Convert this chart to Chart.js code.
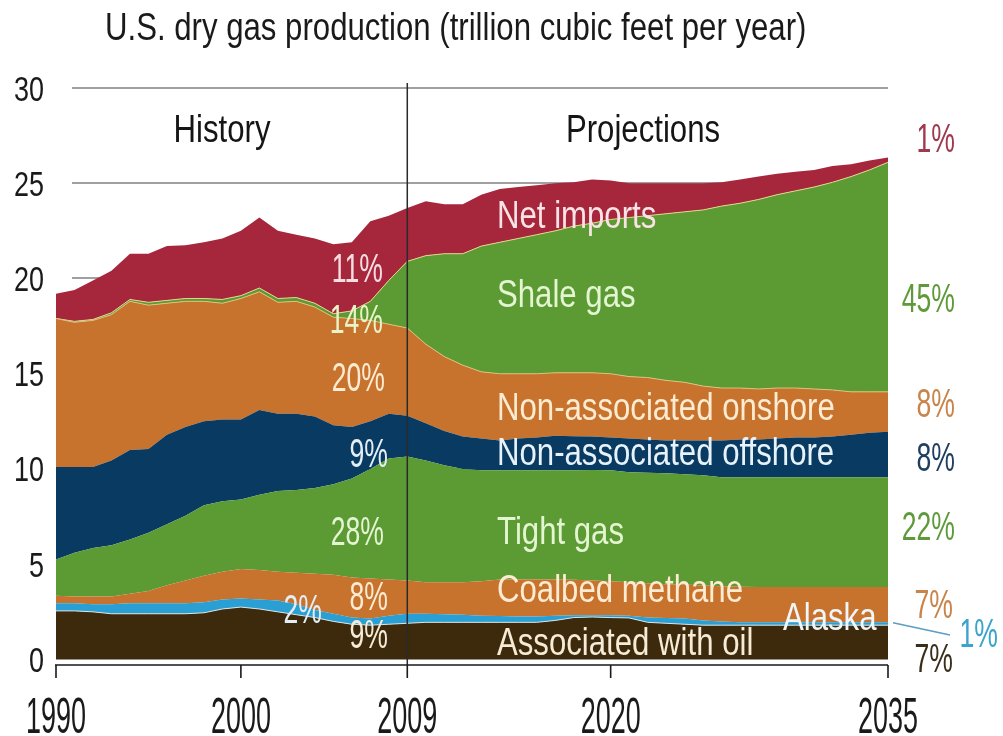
<!DOCTYPE html>
<html>
<head>
<meta charset="utf-8">
<title>U.S. dry gas production</title>
<script src="https://cdn.jsdelivr.net/npm/chart.js@4.4.1/dist/chart.umd.min.js"></script>
<style>
  html, body { margin: 0; padding: 0; background: #ffffff; }
  #wrap { width: 1003px; height: 736px; position: relative; }
</style>
</head>
<body>
<div id="wrap"><canvas id="myChart" width="1003" height="736"></canvas></div>
<script>
// years on the x axis
const YEARS = [
  1990, 1991, 1992, 1993, 1994, 1995, 1996, 1997, 1998, 1999,
  2000, 2001, 2002, 2003, 2004, 2005, 2006, 2007, 2008, 2009,
  2010, 2011, 2012, 2013, 2014, 2015, 2016, 2017, 2018, 2019,
  2020, 2021, 2022, 2023, 2024, 2025, 2026, 2027, 2028, 2029,
  2030, 2031, 2032, 2033, 2034, 2035,
];

// trillion cubic feet per year, one value per year, bottom layer first
const ASSOCIATED_WITH_OIL = [
  2.55, 2.55, 2.5, 2.4, 2.4, 2.4, 2.4, 2.4, 2.45, 2.65,
  2.75, 2.65, 2.5, 2.35, 2.2, 2.0, 1.85, 1.8, 1.85, 1.9,
  1.95, 1.95, 1.95, 1.95, 1.95, 1.95, 1.95, 2.05, 2.2, 2.23,
  2.2, 2.18, 1.95, 1.9, 1.85, 1.8, 1.8, 1.8, 1.8, 1.8,
  1.8, 1.8, 1.8, 1.8, 1.8, 1.8,
];
const ALASKA = [
  0.4, 0.4, 0.4, 0.5, 0.55, 0.55, 0.55, 0.55, 0.55, 0.5,
  0.45, 0.5, 0.6, 0.55, 0.4, 0.4, 0.35, 0.35, 0.45, 0.5,
  0.45, 0.43, 0.4, 0.35, 0.33, 0.3, 0.3, 0.25, 0.12, 0.09,
  0.12, 0.12, 0.25, 0.28, 0.3, 0.25, 0.2, 0.15, 0.15, 0.15,
  0.15, 0.15, 0.15, 0.15, 0.15, 0.15,
];
const COALBED_METHANE = [
  0.4, 0.35, 0.4, 0.4, 0.5, 0.65, 0.95, 1.2, 1.4, 1.45,
  1.55, 1.55, 1.5, 1.65, 1.9, 2.05, 2.1, 2.1, 1.9, 1.75,
  1.65, 1.67, 1.7, 1.8, 1.92, 1.95, 1.95, 1.9, 1.86, 1.83,
  1.78, 1.75, 1.8, 1.77, 1.78, 1.83, 1.85, 1.87, 1.85, 1.85,
  1.85, 1.85, 1.85, 1.85, 1.85, 1.85,
];
const TIGHT_GAS = [
  1.9, 2.3, 2.55, 2.7, 2.85, 3.05, 3.2, 3.4, 3.7, 3.7,
  3.65, 3.95, 4.25, 4.35, 4.5, 4.75, 5.2, 5.75, 6.35, 6.5,
  6.4, 6.15, 5.95, 5.83, 5.73, 5.73, 5.73, 5.73, 5.75, 5.8,
  5.83, 5.78, 5.8, 5.82, 5.79, 5.79, 5.71, 5.74, 5.76, 5.76,
  5.76, 5.76, 5.76, 5.76, 5.76, 5.76,
];
const NON_ASSOC_OFFSHORE = [
  4.85, 4.5, 4.25, 4.45, 4.7, 4.4, 4.7, 4.65, 4.4, 4.3,
  4.2, 4.45, 4.05, 4.0, 3.75, 3.1, 2.7, 2.5, 2.35, 2.15,
  1.95, 1.8, 1.7, 1.67, 1.57, 1.67, 1.72, 1.82, 1.79, 1.75,
  1.72, 1.77, 1.75, 1.73, 1.78, 1.83, 1.94, 1.99, 1.99, 2.04,
  2.09, 2.09, 2.14, 2.24, 2.34, 2.39,
];
const NON_ASSOC_ONSHORE = [
  7.8, 7.6, 7.7, 7.65, 7.8, 7.55, 6.9, 6.6, 6.3, 6.1,
  6.35, 6.2, 5.85, 5.9, 5.75, 5.67, 5.7, 5.3, 4.7, 4.6,
  4.15, 3.9, 3.75, 3.5, 3.5, 3.4, 3.35, 3.3, 3.33, 3.35,
  3.35, 3.25, 3.25, 3.15, 3.05, 2.85, 2.75, 2.7, 2.65, 2.65,
  2.6, 2.55, 2.45, 2.25, 2.15, 2.1,
];
const SHALE_GAS = [
  0.0, 0.05, 0.05, 0.1, 0.1, 0.15, 0.15, 0.15, 0.15, 0.2,
  0.15, 0.2, 0.2, 0.2, 0.2, 0.18, 0.4, 1.0, 2.3, 3.5,
  4.65, 5.4, 5.85, 6.6, 6.9, 7.1, 7.3, 7.45, 7.7, 7.85,
  8.1, 8.35, 8.5, 8.75, 8.95, 9.25, 9.55, 9.7, 9.95, 10.15,
  10.35, 10.6, 10.9, 11.3, 11.65, 12.05,
];
const NET_IMPORTS = [
  1.3, 1.65, 2.05, 2.2, 2.4, 2.55, 2.85, 2.8, 2.95, 3.2,
  3.4, 3.7, 3.55, 3.3, 3.4, 3.65, 3.6, 4.2, 3.4, 2.8,
  2.85, 2.6, 2.6, 2.7, 2.8, 2.7, 2.6, 2.5, 2.3, 2.3,
  2.05, 1.8, 1.7, 1.6, 1.5, 1.4, 1.25, 1.25, 1.2, 1.1,
  1.0, 0.9, 0.85, 0.65, 0.5, 0.25,
];

const X_TICKS = [1990, 2000, 2009, 2020, 2035];
const Y_TICKS = [0, 5, 10, 15, 20, 25, 30];
const SPLIT_YEAR = 2009;

const TITLE = "U.S. dry gas production (trillion cubic feet per year)";

// series in stacking order with their fills
const SERIES = [
  { label: "Associated with oil", data: ASSOCIATED_WITH_OIL, color: "#3d2a0c", line: "#d9e4e6", width: 1 },
  { label: "Alaska", data: ALASKA, color: "#2a9fd4", line: null, width: 0 },
  { label: "Coalbed methane", data: COALBED_METHANE, color: "#c8732d", line: null, width: 0 },
  { label: "Tight gas", data: TIGHT_GAS, color: "#5c9a34", line: null, width: 0 },
  { label: "Non-associated offshore", data: NON_ASSOC_OFFSHORE, color: "#083a62", line: null, width: 0 },
  { label: "Non-associated onshore", data: NON_ASSOC_ONSHORE, color: "#c8732d", line: "#d9c27a", width: 1 },
  { label: "Shale gas", data: SHALE_GAS, color: "#5c9a34", line: "#e4d38c", width: 1 },
  { label: "Net imports", data: NET_IMPORTS, color: "#a6263c", line: null, width: 0 },
];

// text placed on the picture: [text, x, baseline, colour, align, kind]
const LABELS = [
  ["History", 222, 142, "#151515", "center", "word"],
  ["Projections", 643, 142, "#151515", "center", "word"],
  ["Net imports", 497, 228, "#fae3e6", "left", "word"],
  ["Shale gas", 497, 307, "#e4f5d2", "left", "word"],
  ["Non-associated onshore", 497, 420, "#fdebd2", "left", "word"],
  ["Non-associated offshore", 497, 465, "#e8f2fa", "left", "word"],
  ["Tight gas", 497, 544, "#e4f5d2", "left", "word"],
  ["Coalbed methane", 497, 602, "#fdebd2", "left", "word"],
  ["Associated with oil", 497, 655, "#f6ebd6", "left", "word"],
  ["Alaska", 783, 630, "#eef6fa", "left", "word"],
  ["11%", 383, 282, "#f8dde2", "right", "pct"],
  ["14%", 383, 333, "#e8f4c8", "right", "pct"],
  ["20%", 385, 391, "#fdebd2", "right", "pct"],
  ["9%", 388, 467, "#e3eef6", "right", "pct"],
  ["28%", 384, 545, "#e4f5d2", "right", "pct"],
  ["8%", 388, 610, "#fdebd2", "right", "pct"],
  ["2%", 322, 623, "#e3eef6", "right", "pct"],
  ["9%", 388, 648, "#f6ebd6", "right", "pct"],
  ["1%", 955, 152, "#a0384e", "right", "pct"],
  ["45%", 955, 312, "#5e9a3a", "right", "pct"],
  ["8%", 955, 417, "#c8844a", "right", "pct"],
  ["8%", 955, 471, "#1f3f60", "right", "pct"],
  ["22%", 955, 540, "#5e9a3a", "right", "pct"],
  ["7%", 953, 618, "#c8844a", "right", "pct"],
  ["1%", 998, 647, "#3ba3cc", "right", "pct"],
  ["7%", 953, 672, "#3a2e1a", "right", "pct"],
];

const FONT = '"Liberation Sans", Arial, Helvetica, sans-serif';
const TEXT_STYLE = {
  word: { sx: 0.82, sy: 1.0 },
  pct: { sx: 0.7, sy: 1.05 },
  xtick: { sx: 0.71, sy: 1.29 },
  ytick: { sx: 0.71, sy: 0.92 },
};

// draws condensed text the way the source picture has it
const drawText = (ctx, text, x, y, color, align, kind) => {
  const { sx, sy } = TEXT_STYLE[kind];
  ctx.save();
  ctx.translate(x, y);
  ctx.scale(sx, sy);
  ctx.font = `38px ${FONT}`;
  ctx.fillStyle = color;
  ctx.textAlign = align;
  ctx.textBaseline = "alphabetic";
  ctx.fillText(text, 0, 0);
  ctx.restore();
};

// grid, axis, ticks and annotations
const overlayPlugin = {
  id: "overlay",
  beforeDatasetsDraw(chart) {
    const { ctx, chartArea, scales } = chart;
    ctx.save();
    ctx.strokeStyle = "#a0a0a0";
    ctx.lineWidth = 2;
    Y_TICKS.filter((v) => v > 0).forEach((v) => {
      const py = Math.round(scales.y.getPixelForValue(v));
      ctx.beginPath();
      ctx.moveTo(chartArea.left + 16, py);
      ctx.lineTo(chartArea.right, py);
      ctx.stroke();
    });
    ctx.restore();
  },
  afterDatasetsDraw(chart) {
    const { ctx, chartArea, scales } = chart;
    const { x, y } = scales;
    ctx.save();

    // history / projections divider
    const sx = x.getPixelForValue(SPLIT_YEAR);
    ctx.strokeStyle = "#2a2a2a";
    ctx.lineWidth = 1.5;
    ctx.beginPath();
    ctx.moveTo(sx, chartArea.top - 5);
    ctx.lineTo(sx, chartArea.bottom);
    ctx.stroke();

    // x axis with tick marks
    ctx.strokeStyle = "#1a1a1a";
    ctx.lineWidth = 1.6;
    ctx.beginPath();
    ctx.moveTo(chartArea.left - 1, chartArea.bottom);
    ctx.lineTo(chartArea.right, chartArea.bottom);
    X_TICKS.forEach((t) => {
      const px = x.getPixelForValue(t);
      ctx.moveTo(px, chartArea.bottom);
      ctx.lineTo(px, chartArea.bottom + 13);
    });
    ctx.stroke();

    // Alaska leader line
    const last = YEARS.length - 1;
    const alaskaMid = ASSOCIATED_WITH_OIL[last] + ALASKA[last] / 2;
    ctx.strokeStyle = "#5a9ec0";
    ctx.lineWidth = 1.3;
    ctx.beginPath();
    ctx.moveTo(x.getPixelForValue(YEARS[last]) + 5, y.getPixelForValue(alaskaMid) - 1);
    ctx.lineTo(950, 635);
    ctx.stroke();
    ctx.restore();

    X_TICKS.forEach((t) => {
      drawText(ctx, String(t), x.getPixelForValue(t), 733, "#1a1a1a", "center", "xtick");
    });
    Y_TICKS.forEach((v) => {
      drawText(ctx, String(v), 44, y.getPixelForValue(v) + 12.5, "#1a1a1a", "right", "ytick");
    });
    drawText(ctx, TITLE, 105, 40, "#1a1a1a", "left", "word");
    LABELS.forEach(([text, lx, ly, color, align, kind]) => {
      drawText(ctx, text, lx, ly, color, align, kind);
    });
  },
};

const ctx = document.getElementById("myChart").getContext("2d");

const chart = new Chart(ctx, {
  type: "line",
  data: {
    datasets: SERIES.map((s, i) => ({
      label: s.label,
      data: YEARS.map((year, k) => ({ x: year, y: s.data[k] })),
      backgroundColor: s.color,
      borderColor: s.line || s.color,
      borderWidth: s.width,
      fill: i === 0 ? "origin" : "-1",
      pointRadius: 0,
      tension: 0,
    })),
  },
  options: {
    responsive: false,
    animation: false,
    layout: {
      padding: { left: 56, right: 115, top: 88, bottom: 71 },
    },
    plugins: {
      legend: { display: false },
      tooltip: { enabled: false },
    },
    scales: {
      x: {
        type: "linear",
        min: 1990,
        max: 2035,
        grid: { display: false },
        border: { display: false },
        ticks: { display: false },
        afterBuildTicks: (scale) => {
          scale.ticks = X_TICKS.map((value) => ({ value }));
        },
        afterFit: (scale) => {
          scale.height = 0;
        },
      },
      y: {
        stacked: true,
        min: -0.29,
        max: 30,
        grid: { display: false },
        border: { display: false },
        ticks: { display: false },
        afterBuildTicks: (scale) => {
          scale.ticks = Y_TICKS.map((value) => ({ value }));
        },
        afterFit: (scale) => {
          scale.width = 0;
        },
      },
    },
  },
  plugins: [overlayPlugin],
});
</script>
</body>
</html>
